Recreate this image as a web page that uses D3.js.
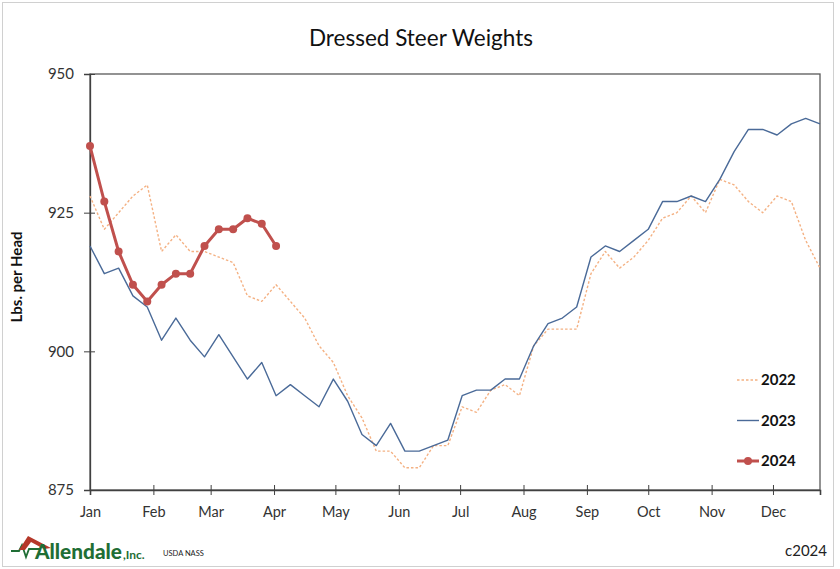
<!DOCTYPE html>
<html>
<head>
<meta charset="utf-8">
<script src="https://cdn.jsdelivr.net/npm/d3@7"></script>
<style>
  body { margin: 0; background: #fff; }
  text { font-family: Lato, "Open Sans", sans-serif; }
</style>
</head>
<body>
<svg id="chart" width="840" height="569"></svg>
<script>
// Dressed steer weights, lbs per head, weekly (USDA NASS)
const years = ["2022", "2023", "2024"];

const w2022 = [928, 922, 925, 928, 930, 918, 921, 918, 918, 917, 916, 910, 909, 912, 909, 906,
  901, 898, 892, 888, 882, 882, 879, 879, 883, 883, 890, 889, 893, 894, 892, 901,
  904, 904, 904, 914, 918, 915, 917, 920, 924, 925, 928, 925, 931, 930, 927, 925,
  928, 927, 920, 915];

const w2023 = [919, 914, 915, 910, 908, 902, 906, 902, 899, 903, 899, 895, 898, 892, 894, 892,
  890, 895, 891, 885, 883, 887, 882, 882, 883, 884, 892, 893, 893, 895, 895, 901,
  905, 906, 908, 917, 919, 918, 920, 922, 927, 927, 928, 927, 931, 936, 940, 940,
  939, 941, 942, 941];

const w2024 = [937, 927, 918, 912, 909, 912, 914, 914, 919, 922, 922, 924, 923, 919];

const yTicks = [875, 900, 925, 950];
const monthLabels = ["Jan", "Feb", "Mar", "Apr", "May", "Jun", "Jul", "Aug", "Sep", "Oct", "Nov", "Dec"];

const svg = d3.select("#chart");
const margin = { left: 90, top: 74, right: 20, bottom: 79 };
const width = 840, height = 569;
const plotW = width - margin.left - margin.right;   // 730
const plotH = height - margin.top - margin.bottom;  // 416

// weeks are laid on a common calendar year (day axis like Excel date axis)
const start = new Date(2023, 0, 1);
const weekDate = i => d3.timeDay.offset(start, 7 * i);

const x = d3.scaleTime()
  .domain([start, weekDate(w2023.length - 1)])
  .range([0, plotW]);
const y = d3.scaleLinear().domain([875, 950]).range([plotH, 0]);

// outer chart border
svg.append("rect")
  .attr("x", 2.5).attr("y", 2.5)
  .attr("width", 831).attr("height", 564)
  .attr("fill", "#fff")
  .attr("stroke", "#d0d0d0");

svg.append("text")
  .attr("x", 421).attr("y", 46)
  .attr("text-anchor", "middle")
  .style("font-size", "22.5px")
  .style("fill", "#111")
  .text("Dressed Steer Weights");

const g = svg.append("g").attr("transform", `translate(${margin.left},${margin.top})`);

// plot area frame
g.append("rect")
  .attr("width", plotW).attr("height", plotH)
  .attr("fill", "none")
  .attr("stroke", "#595959")
  .attr("stroke-width", 1.3);

// y axis
const yAxis = g.append("g")
  .call(d3.axisLeft(y).tickValues(yTicks).tickSize(6).tickPadding(10));
yAxis.select(".domain").attr("stroke", "#404040").attr("stroke-width", 1.3);
yAxis.selectAll(".tick line").attr("x2", -6).attr("x1", 5).attr("stroke", "#404040");
yAxis.selectAll(".tick text")
  .style("font-size", "15px")
  .style("font-family", "Lato, 'Open Sans', sans-serif")
  .style("fill", "#333");

// x axis, month ticks with labels centred on them
const months = d3.timeMonth.range(start, new Date(2023, 11, 2));
const xAxis = g.append("g")
  .attr("transform", `translate(0,${plotH})`)
  .call(d3.axisBottom(x).tickValues(months).tickFormat((d, i) => monthLabels[i]).tickSize(5).tickPadding(12));
xAxis.select(".domain").attr("stroke", "#404040").attr("stroke-width", 1.6);
xAxis.selectAll(".tick line").attr("y1", -5).attr("y2", 5).attr("stroke", "#404040");
xAxis.selectAll(".tick text")
  .style("font-size", "14.5px")
  .style("font-family", "Lato, 'Open Sans', sans-serif")
  .style("fill", "#333");

svg.append("text")
  .attr("transform", "translate(22,277) rotate(-90)")
  .attr("text-anchor", "middle")
  .style("font-size", "15px")
  .style("font-weight", "bold")
  .style("fill", "#111")
  .text("Lbs. per Head");

// series
const line = d3.line()
  .x((d, i) => x(weekDate(i)))
  .y(d => y(d));

const styles = {
  "2022": { color: "#f4b183", width: 1.4, dash: "2.5,2" },
  "2023": { color: "#4a6a98", width: 1.4, dash: null },
  "2024": { color: "#c0504d", width: 3, dash: null }
};
const seriesData = { "2022": w2022, "2023": w2023, "2024": w2024 };

years.forEach(yr => {
  const s = styles[yr];
  g.append("path")
    .datum(seriesData[yr])
    .attr("fill", "none")
    .attr("stroke", s.color)
    .attr("stroke-width", s.width)
    .attr("stroke-linejoin", "round")
    .attr("stroke-dasharray", s.dash)
    .attr("d", line);
});

g.selectAll("circle.pt")
  .data(w2024)
  .join("circle")
  .attr("class", "pt")
  .attr("cx", (d, i) => x(weekDate(i)))
  .attr("cy", d => y(d))
  .attr("r", 4)
  .attr("fill", styles["2024"].color);

// legend
const legend = svg.append("g");
years.forEach((yr, i) => {
  const s = styles[yr];
  const ly = 380 + i * 40.5;
  legend.append("line")
    .attr("x1", 737).attr("x2", 759)
    .attr("y1", ly).attr("y2", ly)
    .attr("stroke", s.color)
    .attr("stroke-width", yr === "2024" ? 3 : 1.4)
    .attr("stroke-dasharray", s.dash);
  if (yr === "2024") {
    legend.append("circle").attr("cx", 748).attr("cy", ly).attr("r", 4).attr("fill", s.color);
  }
  legend.append("text")
    .attr("x", 761).attr("y", ly + 5)
    .style("font-size", "15px")
    .style("font-weight", "bold")
    .style("fill", "#111")
    .text(yr);
});

// footer: logo, source, copyright
const logo = svg.append("g");
logo.append("path")
  .attr("d", "M11,551 L19,551 L22,545 L26,557 L29,549 L40,549")
  .attr("fill", "none")
  .attr("stroke", "#1f6e35")
  .attr("stroke-width", 1.8);
logo.append("path")
  .attr("d", "M19,550 L28,536 L51,548 L44,549 L31,542 L25,550 Z")
  .attr("fill", "#b5382a");

// size the wordmark so it spans about 87px, then place ",Inc." right after it
const brand = logo.append("text")
  .attr("x", 35).attr("y", 559)
  .style("font-size", "23px")
  .style("font-weight", "900")
  .style("fill", "#1f6e35")
  .text("Allendale");
const natural = brand.node().getComputedTextLength();
brand.style("font-size", `${23 * 87 / natural}px`);
const brandEnd = 35 + brand.node().getComputedTextLength();
logo.append("text")
  .attr("x", brandEnd + 1).attr("y", 559)
  .style("font-size", "12px")
  .style("font-weight", "bold")
  .style("fill", "#1f6e35")
  .text(",Inc.");

svg.append("text")
  .attr("x", 163).attr("y", 556)
  .style("font-size", "7.5px")
  .style("fill", "#222")
  .text("USDA NASS");

svg.append("text")
  .attr("x", 827).attr("y", 556)
  .attr("text-anchor", "end")
  .style("font-size", "15px")
  .style("fill", "#222")
  .text("c2024");
</script>
</body>
</html>
